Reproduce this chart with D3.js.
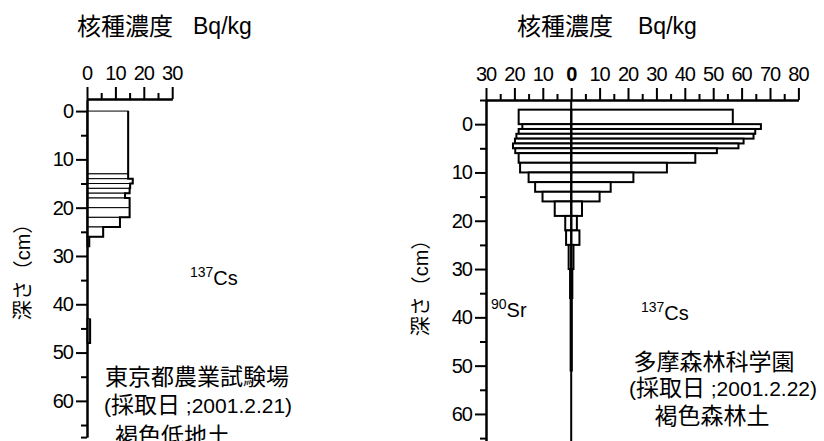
<!DOCTYPE html>
<html>
<head>
<meta charset="utf-8">
<script src="https://cdn.jsdelivr.net/npm/d3@7"></script>
<style>
  html, body { margin: 0; padding: 0; background: #fff; }
  svg { display: block; }
  .lat { font-family: "Liberation Sans", Arial, sans-serif; }
  .cjk { font-family: "Liberation Sans", "Noto Sans CJK JP", sans-serif; }
</style>
</head>
<body>
<script>
// Tokyo agricultural site: 137Cs by depth layer (cm, Bq/kg)
const tokyoTop    = [0, 13, 14, 15, 16, 17, 18, 20, 22, 24, 26, 43];
const tokyoBottom = [13, 14, 15, 16, 17, 18, 20, 22, 24, 26, 28, 48];
const tokyoCs     = [14.5, 14.5, 16.1, 15.2, 15.0, 13.4, 15.0, 15.0, 11.6, 5.7, 0.8, 1.1];

// Tama forest site: 137Cs (right) and 90Sr (left) by depth layer
const tamaTop    = [-3, 0, 1, 2, 3, 4, 5, 6, 8, 10, 12, 14, 16, 19, 22, 25, 30, 36];
const tamaBottom = [0, 1, 2, 3, 4, 5, 6, 8, 10, 12, 14, 16, 19, 22, 25, 30, 36, 51];
const tamaCs     = [56.9, 66.8, 64.8, 64.2, 60.7, 58.9, 51.3, 43.7, 33.7, 21.9, 13.9, 10.0, 3.8, 2.0, 2.9, 0.8, 0.4, 0.2];
const tamaSr     = [18.5, 17.2, 18.5, 19.3, 19.8, 20.5, 19.7, 18.5, 18.0, 15.0, 12.7, 10.1, 5.8, 2.1, 1.8, 0.9, 0.4, 0.2];

// Axis ticks
const tokyoXMajor = [0, 10, 20, 30];
const tokyoXMinor = [5, 15, 25];
const tamaXMajor  = [-30, -20, -10, 0, 10, 20, 30, 40, 50, 60, 70, 80];
const tamaXMinor  = [-25, -15, -5, 5, 15, 25, 35, 45, 55, 65, 75];
const depthMajor  = [0, 10, 20, 30, 40, 50, 60];
const depthMinorTokyo = [5, 15, 25, 35, 45, 55, 65, 67.5];
const depthMinorTama  = [-5, 5, 15, 25, 35, 45, 55, 65];

const W = 824, H = 441;
const svg = d3.select("body").append("svg").attr("width", W).attr("height", H);

const PX_PER_UNIT = 2.84;   // concentration scale (px per Bq/kg)
const PX_PER_CM = 4.83;     // depth scale (px per cm)

// ---------- scales ----------
const xTokyo = d3.scaleLinear().domain([0, 30]).range([87, 87 + 30 * PX_PER_UNIT]);
const yTokyo = d3.scaleLinear().domain([-2.5, 67.5]).range([99, 99 + 70 * PX_PER_CM]);
const xTama = d3.scaleLinear().domain([-30, 80]).range([486, 486 + 110 * PX_PER_UNIT]);
const yTama = d3.scaleLinear().domain([-5, 67.5]).range([100, 100 + 72.5 * PX_PER_CM]);

function styleAxis(g) {
  g.selectAll(".domain").attr("stroke", "#000").attr("stroke-width", 2);
  g.selectAll(".tick line").attr("stroke", "#000").attr("stroke-width", 2);
  g.selectAll(".tick text").attr("fill", "#000")
    .attr("font-family", "Liberation Sans, Arial, sans-serif")
    .attr("font-size", 20).attr("letter-spacing", "-1px");
}

function drawTopAxis(x, y0, major, minor, fmt, boldZero) {
  const gMin = svg.append("g").attr("transform", `translate(0,${y0})`)
    .call(d3.axisTop(x).tickValues(minor).tickSize(6).tickSizeOuter(0).tickFormat(""));
  styleAxis(gMin);
  const gMaj = svg.append("g").attr("transform", `translate(0,${y0})`)
    .call(d3.axisTop(x).tickValues(major).tickSize(12).tickSizeOuter(0).tickPadding(7).tickFormat(fmt));
  styleAxis(gMaj);
  gMaj.selectAll(".tick text").attr("dx", "-0.5px");
  if (boldZero) gMaj.selectAll(".tick text").attr("font-weight", d => d === 0 ? "bold" : "normal");
}

function drawLeftAxis(y, x0, major, minor) {
  const gMin = svg.append("g").attr("transform", `translate(${x0},0)`)
    .call(d3.axisLeft(y).tickValues(minor).tickSize(6).tickSizeOuter(0).tickFormat(""));
  styleAxis(gMin);
  const gMaj = svg.append("g").attr("transform", `translate(${x0},0)`)
    .call(d3.axisLeft(y).tickValues(major).tickSize(11).tickSizeOuter(0).tickPadding(3));
  styleAxis(gMaj);
}

// ---------- left panel: Tokyo ----------
const tokyo = tokyoTop.map((t, i) => ({ top: t, bottom: tokyoBottom[i], v: tokyoCs[i] }));

svg.append("g").selectAll("rect").data(tokyo).join("rect")
  .attr("x", xTokyo(0))
  .attr("y", d => yTokyo(d.top))
  .attr("width", d => xTokyo(d.v) - xTokyo(0))
  .attr("height", d => yTokyo(d.bottom) - yTokyo(d.top))
  .attr("fill", "#fff").attr("stroke", "#000").attr("stroke-width", 1);

// stepped outline of each contiguous run of layers
function profileRuns(rows) {
  const runs = [];
  rows.forEach((r, i) => {
    if (i === 0 || r.top !== rows[i - 1].bottom) runs.push([]);
    runs[runs.length - 1].push(r);
  });
  return runs;
}
const line = d3.line();
profileRuns(tokyo).forEach(run => {
  const pts = [];
  run.forEach(r => {
    pts.push([xTokyo(r.v), yTokyo(r.top)]);
    pts.push([xTokyo(r.v), yTokyo(r.bottom)]);
  });
  pts.push([xTokyo(0), yTokyo(run[run.length - 1].bottom)]);
  svg.append("path").attr("d", line(pts)).attr("fill", "none")
    .attr("stroke", "#000").attr("stroke-width", 2).attr("stroke-linejoin", "miter");
});

drawTopAxis(xTokyo, 99, tokyoXMajor, tokyoXMinor, d3.format("d"), false);
drawLeftAxis(yTokyo, 87, depthMajor, depthMinorTokyo);

// ---------- right panel: Tama ----------
const tama = tamaTop.map((t, i) => ({ top: t, bottom: tamaBottom[i], cs: tamaCs[i], sr: tamaSr[i] }));

const gTama = svg.append("g");
gTama.selectAll("rect.cs").data(tama).join("rect").attr("class", "cs")
  .attr("x", xTama(0))
  .attr("y", d => yTama(d.top))
  .attr("width", d => xTama(d.cs) - xTama(0))
  .attr("height", d => yTama(d.bottom) - yTama(d.top))
  .attr("fill", "#fff").attr("stroke", "#000").attr("stroke-width", 2);
gTama.selectAll("rect.sr").data(tama).join("rect").attr("class", "sr")
  .attr("x", d => xTama(-d.sr))
  .attr("y", d => yTama(d.top))
  .attr("width", d => xTama(0) - xTama(-d.sr))
  .attr("height", d => yTama(d.bottom) - yTama(d.top))
  .attr("fill", "#fff").attr("stroke", "#000").attr("stroke-width", 2);

// zero line between the two nuclides
svg.append("line")
  .attr("x1", xTama(0)).attr("x2", xTama(0))
  .attr("y1", yTama(-5)).attr("y2", yTama(67.5))
  .attr("stroke", "#000").attr("stroke-width", 2);

drawTopAxis(xTama, 100, tamaXMajor, tamaXMinor, d => Math.abs(d), true);
drawLeftAxis(yTama, 486, depthMajor, depthMinorTama);

// ---------- titles and labels ----------
function title(x, y, bqX) {
  svg.append("text").attr("class", "cjk").attr("x", x).attr("y", y)
    .attr("font-size", 24).text("核種濃度");
  svg.append("text").attr("class", "lat").attr("x", bqX).attr("y", y - 1)
    .attr("font-size", 23).text("Bq/kg");
}
title(77, 35, 193);
title(517, 35, 638);

function depthLabel(cx, cy) {
  svg.append("text").attr("class", "cjk")
    .attr("transform", `translate(${cx},${cy}) rotate(-90)`)
    .attr("text-anchor", "middle").attr("dy", "0.35em")
    .attr("font-size", 20).text("深さ（cm）");
}
depthLabel(23, 267);
depthLabel(421, 283);

function nuclide(x, y, mass, sym) {
  const t = svg.append("text").attr("class", "lat").attr("x", x).attr("y", y).attr("fill", "#000");
  t.append("tspan").attr("font-size", 14).attr("dy", -8).text(mass);
  t.append("tspan").attr("font-size", 20).attr("dy", 8).text(sym);
}
nuclide(190, 285, "137", "Cs");
nuclide(641, 320, "137", "Cs");
nuclide(491, 317, "90", "Sr");

// site captions: CJK at 23px, digits at 21px
function caption(x, y, anchor, parts) {
  const t = svg.append("text").attr("class", "cjk").attr("x", x).attr("y", y)
    .attr("text-anchor", anchor).attr("fill", "#000");
  parts.forEach(([s, size]) => t.append("tspan").attr("font-size", size).text(s));
}
caption(105, 385, "start", [["東京都農業試験場", 23]]);
caption(104, 413, "start", [["(", 21], ["採取日", 23], [" ;2001.2.21)", 21]]);
caption(115, 444, "start", [["褐色低地土", 23]]);

caption(714, 370, "middle", [["多摩森林科学園", 23]]);
caption(723, 396, "middle", [["(", 21], ["採取日", 23], [" ;2001.2.22)", 21]]);
caption(712, 424, "middle", [["褐色森林土", 23]]);
</script>
</body>
</html>
